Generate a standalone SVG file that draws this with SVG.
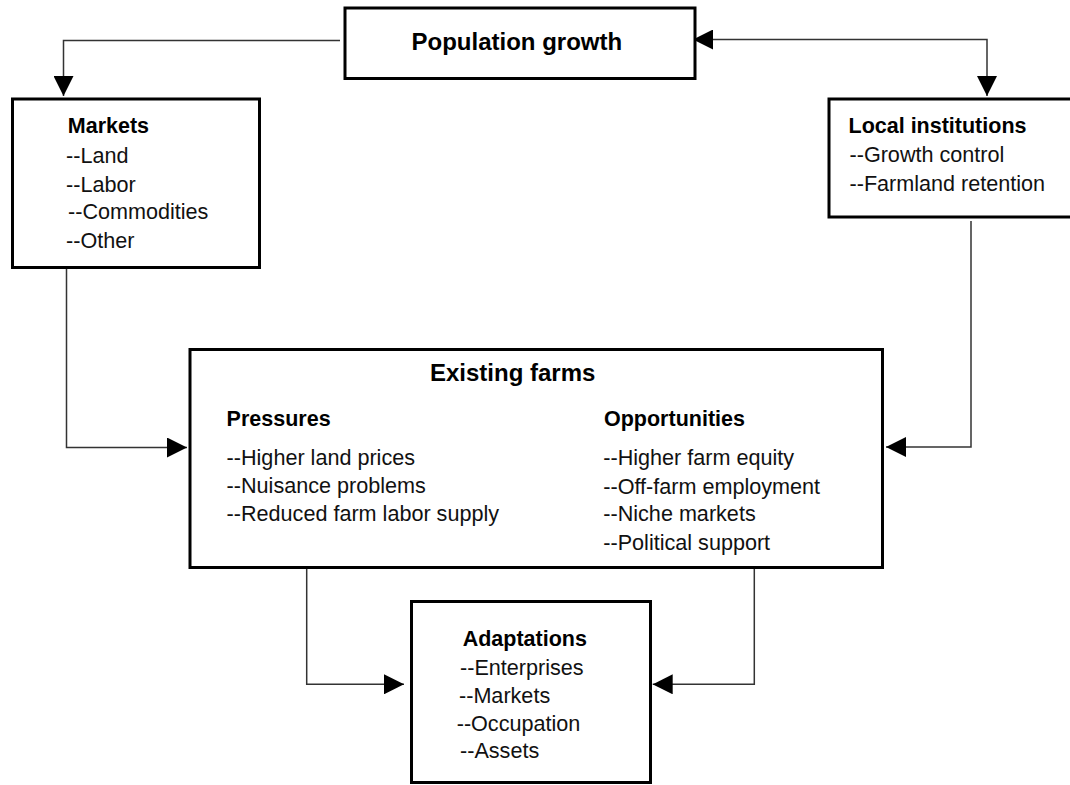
<svg xmlns="http://www.w3.org/2000/svg" width="1070" height="785" viewBox="0 0 1070 785">
<style>
.box{fill:#fff;stroke:#000;stroke-width:3}
.con{fill:none;stroke:#333;stroke-width:1.5}
.t{font-family:"Liberation Sans",Arial,sans-serif;fill:#000}
.title{font-size:24px;font-weight:bold}
.head{font-size:21.5px;font-weight:bold}
.item{font-size:21.6px;fill:#111}
</style>
<defs>
<marker id="arr" markerUnits="userSpaceOnUse" markerWidth="20" markerHeight="20" viewBox="0 0 20 20" refX="20" refY="10" orient="auto-start-reverse">
<path d="M0,0 L20,10 L0,20 Z" fill="#000"/>
</marker>
</defs>
<rect width="1070" height="785" fill="#fff"/>
<g id="connectors">
<polyline class="con" points="340,40.5 63.5,40.5 63.5,96" marker-end="url(#arr)"/>
<polyline class="con" points="693,39.5 987,39.5 987,96" marker-start="url(#arr)" marker-end="url(#arr)"/>
<polyline class="con" points="66.5,268 66.5,447.5 187,447.5" marker-end="url(#arr)"/>
<polyline class="con" points="971,221 971,447 886,447" marker-end="url(#arr)"/>
<polyline class="con" points="306.7,568 306.7,684.3 404,684.3" marker-end="url(#arr)"/>
<polyline class="con" points="754.3,568 754.3,684.3 652.7,684.3" marker-end="url(#arr)"/>
</g>
<g id="population">
<rect class="box" x="345" y="8" width="350" height="70.5"/>
<text class="t title" x="411.5" y="50">Population growth</text>
</g>
<g id="markets">
<rect class="box" x="12.5" y="99" width="247" height="168.5"/>
<text class="t head" x="67.8" y="133">Markets</text>
<text class="t item" x="66" y="163">--Land</text>
<text class="t item" x="66" y="192">--Labor</text>
<text class="t item" x="68" y="219">--Commodities</text>
<text class="t item" x="66" y="248">--Other</text>
</g>
<g id="local">
<rect class="box" x="829" y="99" width="250" height="118"/>
<text class="t head" x="848.5" y="133">Local institutions</text>
<text class="t item" x="849.5" y="162">--Growth control</text>
<text class="t item" x="849.5" y="191">--Farmland retention</text>
</g>
<g id="existing">
<rect class="box" x="190" y="349.5" width="692.5" height="218"/>
<text class="t title" x="430" y="381">Existing farms</text>
<text class="t head" x="226.6" y="426">Pressures</text>
<text class="t item" x="226.6" y="465">--Higher land prices</text>
<text class="t item" x="226.6" y="493">--Nuisance problems</text>
<text class="t item" x="226.6" y="521">--Reduced farm labor supply</text>
<text class="t head" x="604" y="426">Opportunities</text>
<text class="t item" x="603.3" y="465">--Higher farm equity</text>
<text class="t item" x="603.3" y="494">--Off-farm employment</text>
<text class="t item" x="603.3" y="521">--Niche markets</text>
<text class="t item" x="603.3" y="550">--Political support</text>
</g>
<g id="adaptations">
<rect class="box" x="411.5" y="601.5" width="239" height="181"/>
<text class="t head" x="462.7" y="646">Adaptations</text>
<text class="t item" x="460" y="675">--Enterprises</text>
<text class="t item" x="459" y="702.7">--Markets</text>
<text class="t item" x="456.7" y="730.7">--Occupation</text>
<text class="t item" x="460" y="758.3">--Assets</text>
</g>
</svg>
